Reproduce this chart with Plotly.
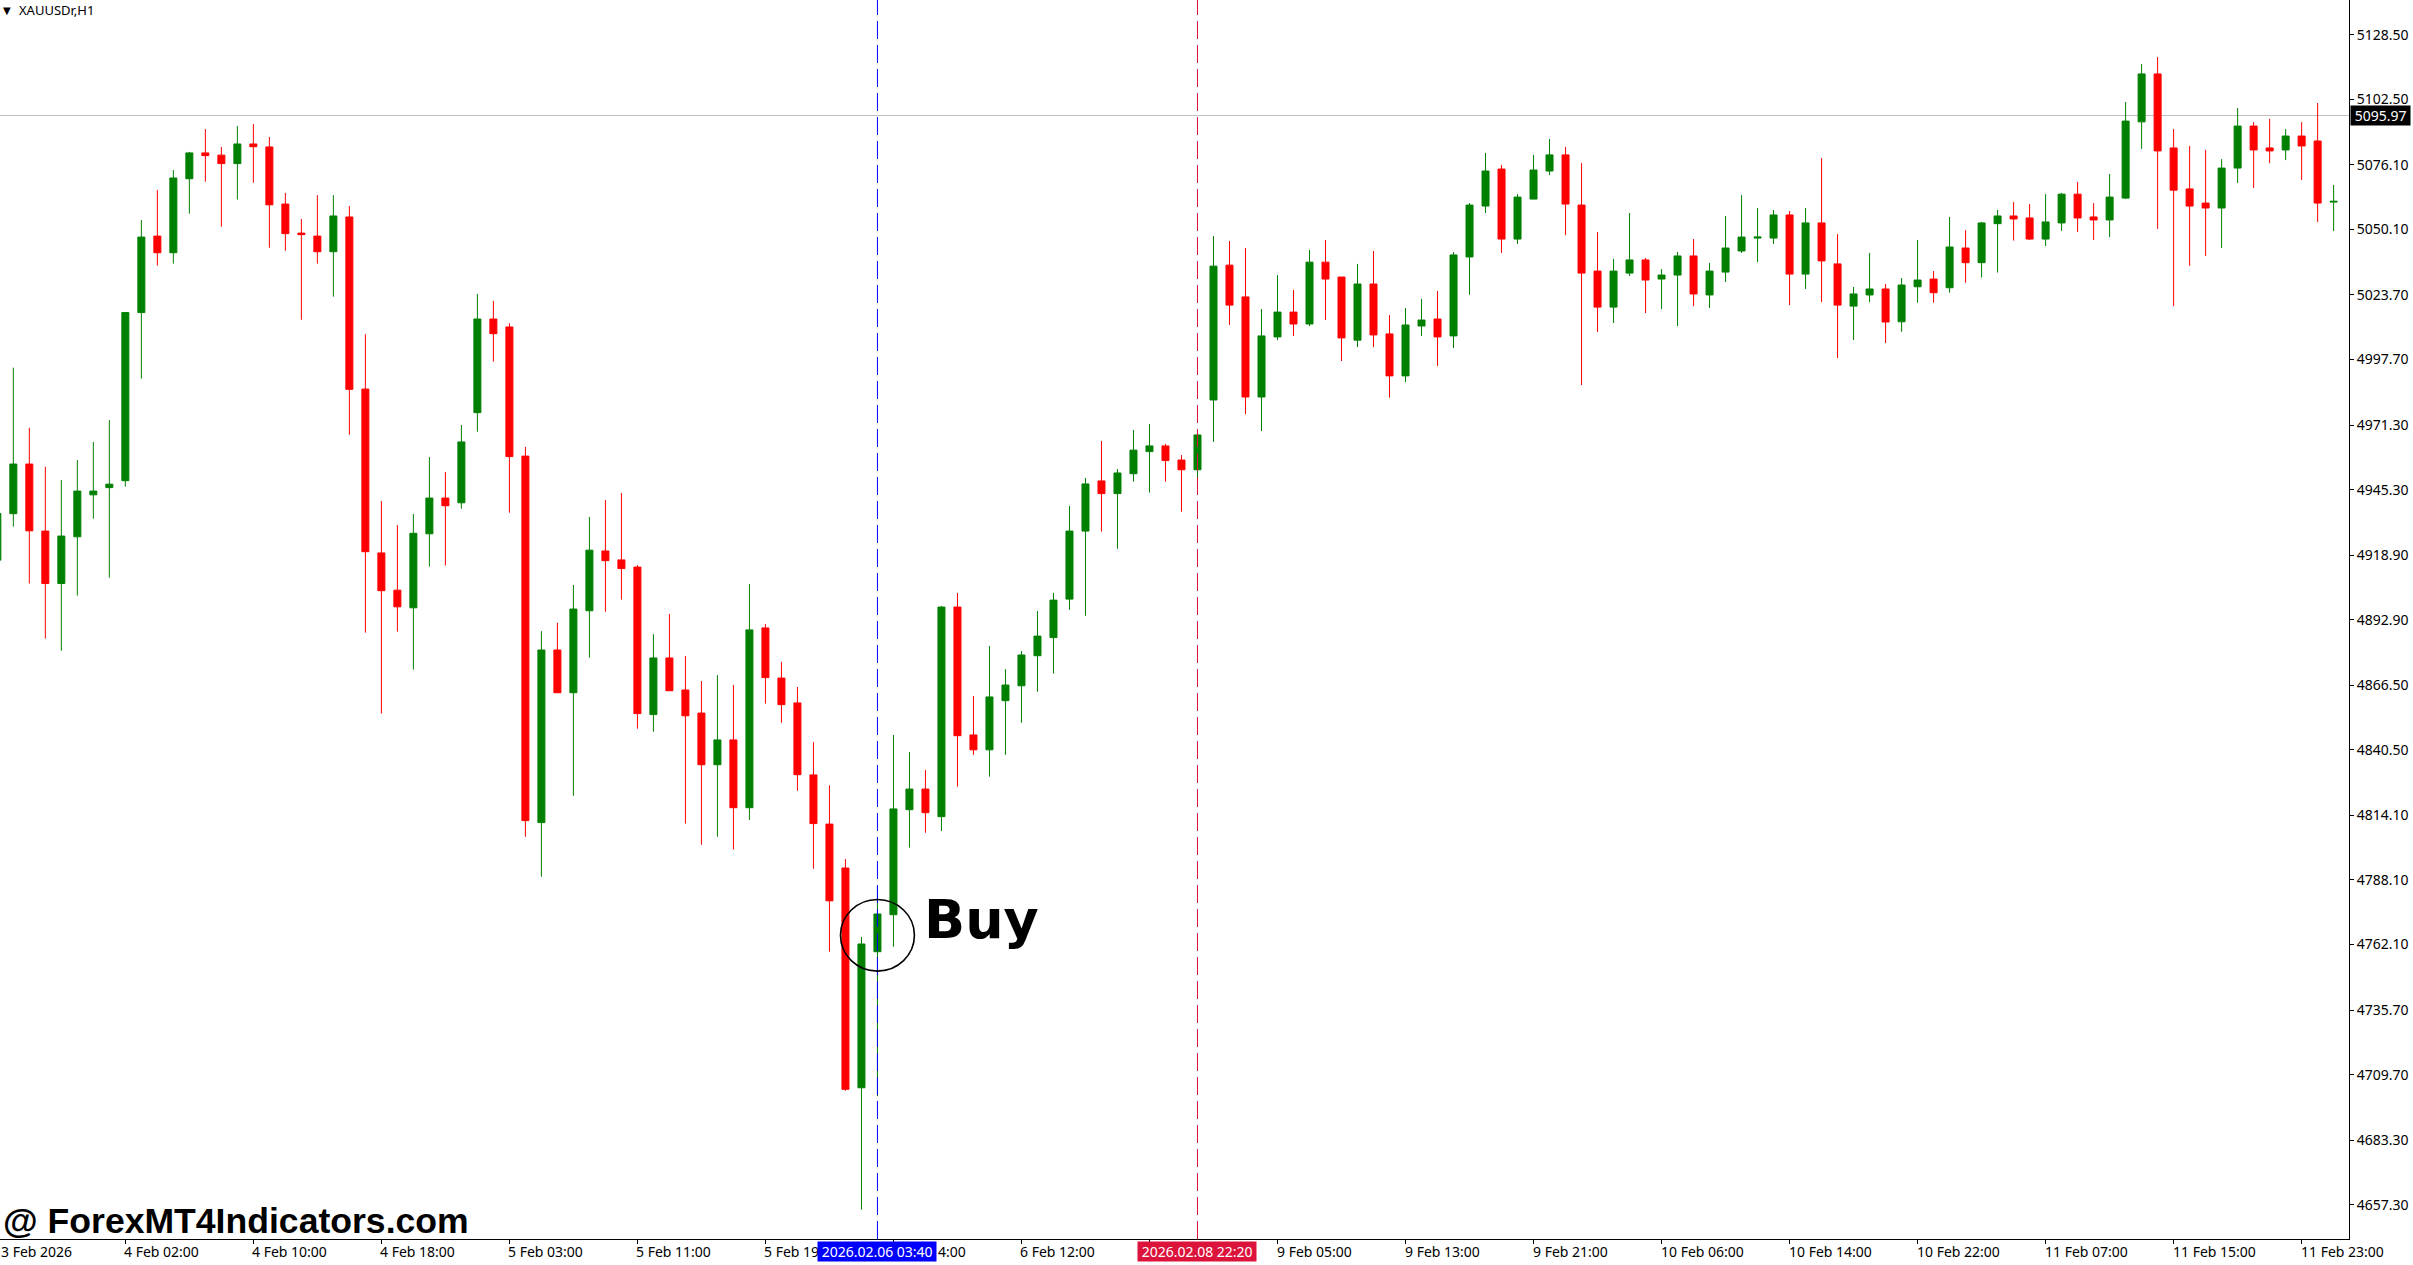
import plotly.graph_objects as go

# ---------------- data (XAUUSDr, H1) ----------------
bar_index = list(range(147))

opens = [4916.9, 4935.6, 4955.6, 4928.6, 4907.5, 4926.3, 4943.2, 4946.1, 4948.9, 5016.6,
         5047.4, 5040.7, 5070.5, 5080.9, 5080.0, 5076.6, 5084.5, 5083.3, 5060.3, 5048.6,
         5047.4, 5041.1, 5055.1, 4985.8, 4919.8, 4904.8, 4897.7, 4927.5, 4941.9, 4940.0,
         4976.3, 5014.0, 5010.8, 4958.8, 4811.2, 4880.7, 4863.5, 4896.5, 4920.6, 4917.0,
         4914.1, 4854.7, 4877.5, 4864.6, 4855.3, 4834.5, 4844.5, 4817.2, 4889.6, 4869.4,
         4859.4, 4830.4, 4810.6, 4792.9, 4704.4, 4759.2, 4774.1, 4816.4, 4824.7, 4813.6,
         4898.0, 4846.5, 4840.5, 4860.3, 4866.3, 4878.4, 4885.7, 4901.2, 4928.6, 4948.8,
         4943.7, 4951.7, 4960.6, 4962.9, 4957.2, 4953.3, 4981.4, 5035.7, 5022.9, 4982.6,
         5006.8, 5016.8, 5012.0, 5036.9, 5030.9, 5005.5, 5028.1, 5008.0, 4991.1, 5011.2,
         5014.0, 5007.2, 5039.0, 5059.5, 5074.4, 5046.2, 5062.3, 5073.6, 5080.1, 5059.9,
         5033.3, 5018.8, 5032.5, 5037.8, 5030.1, 5031.7, 5039.4, 5023.7, 5032.9, 5041.4,
         5046.6, 5046.6, 5055.9, 5032.1, 5052.7, 5036.2, 5019.2, 5023.7, 5026.1, 5012.9,
         5027.0, 5030.1, 5026.6, 5042.6, 5036.7, 5052.4, 5055.5, 5054.7, 5046.2, 5052.7,
         5064.3, 5055.1, 5053.9, 5062.7, 5093.4, 5112.7, 5082.9, 5066.4, 5060.7, 5058.7,
         5074.8, 5091.7, 5082.9, 5082.1, 5087.7, 5085.7, 5061.1]

highs = [4940.0, 4994.4, 4970.2, 4954.5, 4949.2, 4957.2, 4964.5, 4973.3, 5016.6, 5053.9,
         5066.0, 5074.0, 5081.3, 5090.5, 5083.3, 5091.7, 5092.5, 5087.3, 5064.8, 5054.3,
         5063.9, 5063.9, 5059.5, 5007.9, 4940.7, 4931.0, 4935.5, 4958.4, 4952.4, 4971.3,
         5024.1, 5021.3, 5012.3, 4962.5, 4888.3, 4891.7, 4906.9, 4934.3, 4941.1, 4943.9,
         4914.9, 4887.1, 4895.2, 4878.3, 4868.2, 4870.6, 4866.6, 4907.3, 4891.2, 4875.9,
         4865.8, 4843.6, 4826.2, 4796.5, 4765.1, 4785.6, 4846.5, 4839.6, 4832.4, 4898.4,
         4903.7, 4862.2, 4882.3, 4873.0, 4880.3, 4896.4, 4903.7, 4938.7, 4950.0, 4964.9,
         4953.6, 4969.3, 4971.7, 4963.7, 4959.2, 4969.3, 5047.4, 5045.4, 5042.6, 5018.0,
         5031.7, 5025.7, 5041.8, 5045.8, 5030.9, 5036.2, 5041.4, 5015.6, 5018.4, 5022.1,
         5025.3, 5041.0, 5060.7, 5080.9, 5076.0, 5064.3, 5080.1, 5086.5, 5083.3, 5076.8,
         5049.0, 5038.2, 5056.7, 5038.6, 5034.1, 5041.0, 5046.2, 5036.6, 5055.5, 5063.9,
         5058.7, 5057.9, 5057.5, 5058.7, 5078.8, 5048.2, 5026.9, 5040.6, 5028.1, 5030.5,
         5045.8, 5033.3, 5055.1, 5049.8, 5053.1, 5057.9, 5061.1, 5060.3, 5064.3, 5064.8,
         5069.2, 5060.7, 5072.4, 5101.4, 5116.7, 5119.5, 5090.5, 5083.7, 5082.1, 5078.4,
         5099.0, 5093.3, 5094.6, 5090.5, 5093.3, 5101.0, 5068.0]

lows = [4912.0, 4930.4, 4907.5, 4885.3, 4880.4, 4902.6, 4933.6, 4909.8, 4946.5, 4990.0,
        5035.5, 5036.3, 5056.4, 5069.3, 5051.2, 5062.1, 5068.9, 5042.7, 5041.5, 5013.7,
        5036.3, 5023.0, 4967.4, 4887.7, 4855.1, 4888.1, 4872.8, 4914.3, 4914.7, 4937.6,
        4968.6, 4996.8, 4936.0, 4805.5, 4789.4, 4863.5, 4822.0, 4877.6, 4896.1, 4901.0,
        4849.0, 4847.8, 4864.3, 4810.8, 4802.3, 4805.5, 4800.3, 4812.3, 4859.1, 4851.4,
        4824.0, 4792.6, 4759.2, 4703.2, 4655.3, 4701.0, 4761.2, 4801.1, 4807.1, 4807.8,
        4825.7, 4838.5, 4829.7, 4838.5, 4851.4, 4863.9, 4871.2, 4896.9, 4894.5, 4928.4,
        4921.5, 4948.5, 4944.1, 4948.5, 4936.4, 4949.6, 4964.5, 5011.6, 4975.7, 4968.9,
        5005.5, 5007.2, 5011.2, 5013.6, 4997.1, 5002.7, 5002.7, 4982.3, 4988.6, 5007.2,
        4995.1, 5002.3, 5023.8, 5056.7, 5040.6, 5044.2, 5062.3, 5072.0, 5047.8, 4987.4,
        5008.8, 5012.4, 5031.3, 5016.4, 5018.0, 5011.2, 5019.2, 5018.4, 5028.9, 5040.6,
        5036.9, 5044.2, 5019.6, 5026.1, 5020.8, 4998.3, 5005.5, 5020.8, 5004.3, 5008.9,
        5020.6, 5020.6, 5024.6, 5028.6, 5030.7, 5032.7, 5045.6, 5045.8, 5043.4, 5049.5,
        5049.0, 5045.8, 5047.0, 5062.3, 5082.5, 5050.3, 5019.2, 5035.4, 5039.4, 5042.6,
        5068.8, 5066.8, 5076.8, 5078.0, 5070.0, 5053.1, 5049.4]

closes = [4935.7, 4955.6, 4928.7, 4907.5, 4926.6, 4944.7, 4944.7, 4947.5, 5016.6, 5047.0,
          5040.7, 5070.8, 5080.9, 5079.8, 5076.6, 5084.5, 5083.4, 5060.0, 5048.4, 5048.0,
          5041.1, 5055.5, 4985.7, 4920.3, 4904.6, 4898.1, 4927.7, 4941.9, 4938.8, 4964.5,
          5014.0, 5008.1, 4958.6, 4812.0, 4880.7, 4863.5, 4897.2, 4920.9, 4916.7, 4913.5,
          4855.1, 4877.5, 4864.3, 4854.2, 4834.5, 4844.5, 4817.2, 4888.8, 4869.6, 4858.7,
          4830.5, 4810.8, 4779.7, 4703.8, 4762.3, 4774.4, 4816.7, 4824.7, 4815.2, 4898.0,
          4846.2, 4840.5, 4861.8, 4866.6, 4878.7, 4886.3, 4900.8, 4928.6, 4947.6, 4943.7,
          4952.0, 4961.2, 4962.9, 4957.0, 4953.3, 4967.3, 5035.3, 5019.6, 4982.6, 5007.2,
          5016.8, 5012.0, 5036.9, 5030.1, 5006.4, 5028.1, 5007.6, 4991.1, 5011.6, 5013.6,
          5006.8, 5039.8, 5059.9, 5073.6, 5046.2, 5063.1, 5074.0, 5080.1, 5060.3, 5032.5,
          5018.8, 5033.3, 5037.8, 5029.7, 5031.7, 5039.4, 5024.1, 5033.3, 5042.6, 5047.0,
          5047.0, 5055.9, 5032.1, 5052.7, 5037.4, 5019.6, 5024.1, 5026.1, 5012.8, 5027.7,
          5029.7, 5024.6, 5043.0, 5036.7, 5052.7, 5055.5, 5054.3, 5046.2, 5053.1, 5064.3,
          5054.7, 5053.9, 5063.1, 5093.7, 5112.7, 5081.7, 5065.9, 5059.5, 5058.7, 5074.8,
          5091.7, 5082.1, 5081.7, 5087.7, 5083.7, 5060.7, 5061.4]

# time-axis labels (every 8 bars); parts hidden behind the vertical-line
# time boxes in the original are shortened to what remains visible
time_label_index = [0, 8, 16, 24, 32, 40, 48, 56, 64, 80, 88, 96, 104, 112, 120, 128, 136, 144]
time_labels = ["3 Feb 2026", "4 Feb 02:00", "4 Feb 10:00", "4 Feb 18:00", "5 Feb 03:00",
               "5 Feb 11:00", "5 Feb 19", "4:00", "6 Feb 12:00",
               "9 Feb 05:00", "9 Feb 13:00", "9 Feb 21:00", "10 Feb 06:00", "10 Feb 14:00",
               "10 Feb 22:00", "11 Feb 07:00", "11 Feb 15:00", "11 Feb 23:00"]
label_tail_shift = {56: 46}   # "4:00" is the visible tail of "6 Feb 04:00"
axis_tick_index = [0, 8, 16, 24, 32, 40, 48, 56, 64, 72, 80, 88, 96, 104, 112, 120, 128, 136, 144]

# price-axis labels
price_ticks = [5128.50, 5102.50, 5076.10, 5050.10, 5023.70, 4997.70, 4971.30, 4945.30,
               4918.90, 4892.90, 4866.50, 4840.50, 4814.10, 4788.10, 4762.10, 4735.70,
               4709.70, 4683.30, 4657.30]

current_price = 5095.97
buy_bar = 55
buy_label_time = "2026.02.06 03:40"
red_line_bar = 75
red_label_time = "2026.02.08 22:20"
symbol_title = "XAUUSDr,H1"
watermark = "@ ForexMT4Indicators.com"

# ---------------- figure ----------------
X_RANGE = [0.167, 146.96]
Y_RANGE = [4643.5, 5142.48]
FONT = "Noto Sans"

fig = go.Figure()
fig.add_trace(go.Candlestick(
    x=bar_index, open=opens, high=highs, low=lows, close=closes,
    increasing=dict(line=dict(color="#008000", width=1), fillcolor="#008000"),
    decreasing=dict(line=dict(color="#ff0000", width=1), fillcolor="#ff0000"),
    whiskerwidth=0, hoverinfo="skip", showlegend=False,
))

shapes = [
    dict(type="line", xref="paper", x0=0, x1=1, yref="y", y0=current_price, y1=current_price,
         line=dict(color="#c0c0c0", width=1), layer="below"),
    dict(type="line", xref="x", x0=buy_bar, x1=buy_bar, yref="paper", y0=0, y1=1,
         line=dict(color="#0000ff", width=1, dash="18px,6px"), layer="above"),
    dict(type="line", xref="x", x0=red_line_bar, x1=red_line_bar, yref="paper", y0=0, y1=1,
         line=dict(color="#dc143c", width=1, dash="18px,6px"), layer="above"),
    dict(type="circle", xref="x", yref="y",
         x0=buy_bar - 2.31, x1=buy_bar + 2.31, y0=4765.8 - 14.4, y1=4765.8 + 14.4,
         line=dict(color="black", width=1.6), layer="above"),
]

annotations = []
for idx, txt in zip(time_label_index, time_labels):
    xv = idx
    xs = -3 + label_tail_shift.get(idx, 0)
    if idx < X_RANGE[0]:
        xs = -1
        xv = X_RANGE[0] + 0.0001
    annotations.append(dict(x=xv, xref="x", y=0, yref="paper", text=txt, showarrow=False,
                            xanchor="left", yanchor="middle", yshift=-12, xshift=xs,
                            font=dict(family=FONT, size=14, color="black")))

annotations += [
    dict(x=buy_bar, xref="x", y=0, yref="paper", text="\u00a0" + buy_label_time + "\u00a0",
         showarrow=False, xanchor="center", yanchor="middle", yshift=-12, bgcolor="#0000ff",
         borderpad=0, font=dict(family=FONT, size=14, color="white")),
    dict(x=red_line_bar, xref="x", y=0, yref="paper", text="\u00a0" + red_label_time + "\u00a0",
         showarrow=False, xanchor="center", yanchor="middle", yshift=-12, bgcolor="#dc143c",
         borderpad=0, font=dict(family=FONT, size=14, color="white")),
    dict(x=1, xref="paper", y=current_price, yref="y", text="\u00a0%.2f\u00a0" % current_price,
         showarrow=False, xanchor="left", yanchor="middle", xshift=1, bgcolor="black",
         borderpad=0, font=dict(family=FONT, size=14, color="white")),
    dict(x=0.00277, xref="paper", y=(1239 - 10.5) / 1239, yref="paper", text="\u25bc",
         showarrow=False, xanchor="center", yanchor="middle",
         font=dict(family="DejaVu Sans", size=10, color="black")),
    dict(x=17 / 2349, xref="paper", y=(1239 - 10) / 1239, yref="paper", text=symbol_title,
         showarrow=False, xanchor="left", yanchor="middle",
         font=dict(family=FONT, size=13, color="black")),
    dict(x=58.0, xref="x", y=4772.0, yref="y", text="Buy", showarrow=False,
         xanchor="left", yanchor="middle", xshift=-3,
         font=dict(family="DejaVu Sans", size=54, color="black", weight="bold")),
    dict(x=0, xref="paper", y=(1239 - 1221) / 1239, yref="paper", text=watermark,
         showarrow=False, xanchor="left", yanchor="middle", xshift=1,
         font=dict(family="Liberation Sans", size=35.6, color="black", weight="bold")),
]

fig.update_layout(
    width=2413, height=1265,
    margin=dict(l=0, r=64, t=0, b=26, pad=0),
    paper_bgcolor="white", plot_bgcolor="white",
    showlegend=False, boxgap=0.375,
    font=dict(family=FONT, size=14, color="black"),
    xaxis=dict(range=X_RANGE, showgrid=False, zeroline=False, showline=True,
               linecolor="black", linewidth=1, ticks="outside", ticklen=4,
               tickcolor="black", tickvals=axis_tick_index,
               showticklabels=False, rangeslider=dict(visible=False), fixedrange=True),
    yaxis=dict(side="right", range=Y_RANGE, tickvals=price_ticks,
               ticktext=["%.2f" % v for v in price_ticks], ticks="outside", ticklen=4,
               tickcolor="black", showline=True, linecolor="black", linewidth=1,
               showgrid=False, zeroline=False, tickfont=dict(family=FONT, size=14, color="black"),
               fixedrange=True),
    shapes=shapes,
    annotations=annotations,
)

fig.write_html("out.html", config={"displayModeBar": False},
               post_script="document.body.style.margin='0';document.body.style.overflow='hidden';")
